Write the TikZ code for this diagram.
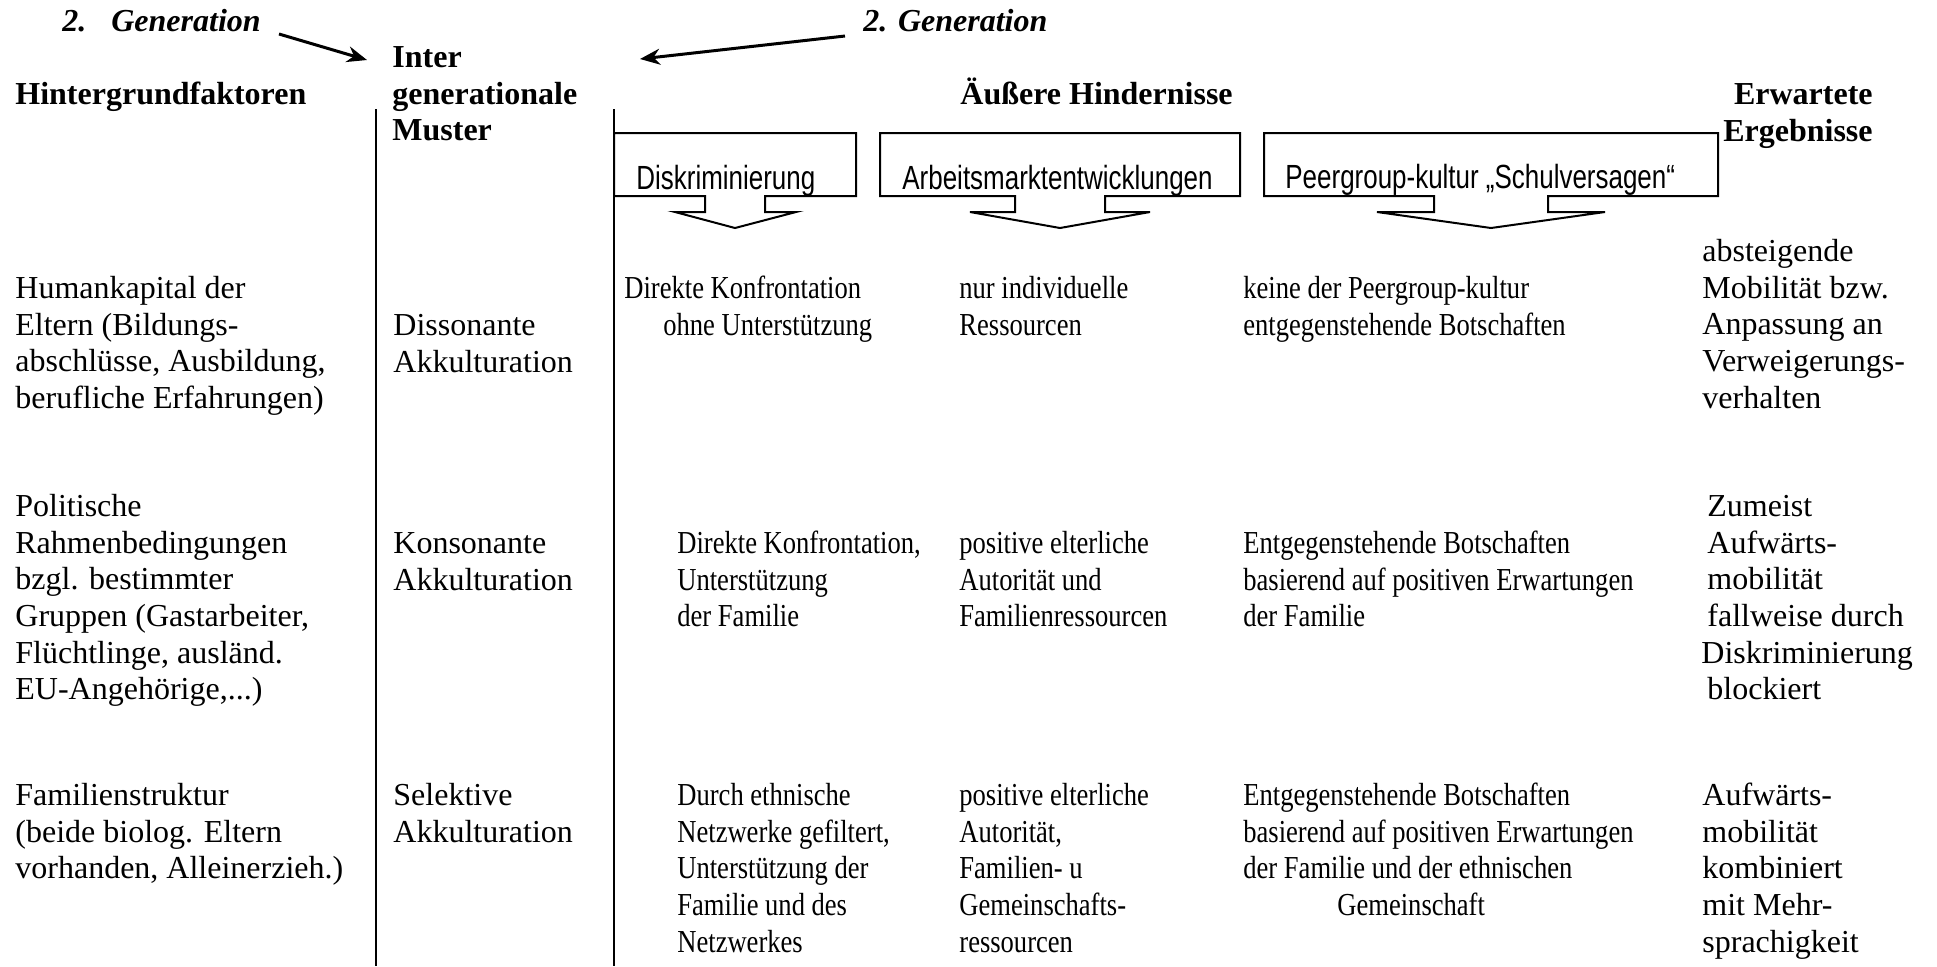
\documentclass[tikz,border=0pt]{standalone}
\usepackage{fontspec}
\setmainfont{Liberation Serif}
\newfontfamily\condserif[FakeStretch=0.83]{Liberation Serif}
\newfontfamily\boxsans[FakeStretch=0.775]{Liberation Sans}
\usetikzlibrary{arrows.meta}
\begin{document}
\begin{tikzpicture}[x=0.5pt,y=-0.5pt,
  txt/.style={anchor=north west, inner sep=0pt, align=left, font=\fontsize{16}{18.35}\selectfont},
  txtr/.style={anchor=north east, inner sep=0pt, align=right, font=\fontsize{16}{18.35}\selectfont\bfseries},
  one/.style={anchor=base west, inner sep=0pt, font=\fontsize{16}{18.35}\selectfont},
  head/.style={one, font=\fontsize{16}{18.35}\selectfont\bfseries},
  headblk/.style={txt, font=\fontsize{16}{18.35}\selectfont\bfseries},
  gen/.style={one, font=\fontsize{16}{18.35}\selectfont\bfseries\itshape},
  mid/.style={txt, font=\fontsize{16}{18.35}\selectfont\condserif},
  boxtxt/.style={anchor=base west, inner sep=0pt, font=\fontsize{16.75}{20}\selectfont\boxsans},
  rule/.style={line width=1pt},
  callout/.style={line width=1pt, fill=white},
  genarrow/.style={line width=1.5pt, -{Stealth[length=10pt,width=8pt]}}
]
\useasboundingbox (0,0) rectangle (1937,966);

% vertical separators
\coordinate (v1t) at (375.5,109); \coordinate (v1b) at (375.5,966);
\coordinate (v2t) at (614,109);   \coordinate (v2b) at (614,966);
\draw[rule] (v1t) -- (v1b);
\draw[rule] (v2t) -- (v2b);

% generation labels and arrows
\node[gen] (gen1) at (62,31) {2.\hspace{12.5pt}Generation};
\node[gen] (gen2) at (863,31) {2. Generation};
\coordinate (a1s) at (279,34); \coordinate (a1e) at (367,60);
\coordinate (a2s) at (845,36); \coordinate (a2e) at (640,59);
\draw[genarrow] (a1s) -- (a1e);
\draw[genarrow] (a2s) -- (a2e);

% headings
\node[head] (hint) at (15,104) {Hintergrundfaktoren};
\node[headblk] (inter) at (392,41.3) {\strut Inter\\generationale\\Muster};
\node[head] (aeuss) at (960,104) {Äußere Hindernisse};
\node[txtr] (erw) at (1873,78.3) {\strut Erwartete\\Ergebnisse};

% callout boxes
\draw[callout] (614,196) -- (614,133) -- (856,133) -- (856,196) -- (765,196) -- (765,212) -- (796,212) -- (735,228) -- (675,212) -- (705,212) -- (705,196) -- cycle;
\draw[callout] (880,196) -- (880,133) -- (1240,133) -- (1240,196) -- (1105,196) -- (1105,212) -- (1150,212) -- (1060,228) -- (970,212) -- (1015,212) -- (1015,196) -- cycle;
\draw[callout] (1264,196) -- (1264,133) -- (1718,133) -- (1718,196) -- (1548,196) -- (1548,212) -- (1605,212) -- (1491,228) -- (1377,212) -- (1434,212) -- (1434,196) -- cycle;
\node[boxtxt] (t1) at (636,189) {Diskriminierung};
\node[boxtxt] (t2) at (902,189) {Arbeitsmarktentwicklungen};
\node[boxtxt] (t3) at (1285,188) {Peergroup-kultur „Schulversagen“};

% background factors
\node[txt] (bf1) at (15,272.3) {\strut Humankapital der\\Eltern (Bildungs-\\abschlüsse, Ausbildung,\\berufliche Erfahrungen)};
\node[txt] (bf2) at (15,490.3) {\strut Politische\\Rahmenbedingungen\\bzgl. bestimmter\\Gruppen (Gastarbeiter,\\Flüchtlinge, ausländ.\\EU-Angehörige,...)};
\node[txt] (bf3) at (15,779.3) {\strut Familienstruktur\\(beide biolog. Eltern\\vorhanden, Alleinerzieh.)};

% patterns
\node[txt] (m1) at (393,309.3) {\strut Dissonante\\Akkulturation};
\node[txt] (m2) at (393,527.3) {\strut Konsonante\\Akkulturation};
\node[txt] (m3) at (393,779.3) {\strut Selektive\\Akkulturation};

% obstacles row A
\node[mid] (a1) at (624,272.3) {\strut Direkte Konfrontation\\\hspace*{19.5pt}ohne Unterstützung};
\node[mid] (a2) at (959,272.3) {\strut nur individuelle\\Ressourcen};
\node[mid] (a3) at (1243,272.3) {\strut keine der Peergroup-kultur\\entgegenstehende Botschaften};
% row B
\node[mid] (b1) at (677,527.3) {\strut Direkte Konfrontation,\\Unterstützung\\der Familie};
\node[mid] (b2) at (959,527.3) {\strut positive elterliche\\Autorität und\\Familienressourcen};
\node[mid] (b3) at (1243,527.3) {\strut Entgegenstehende Botschaften\\basierend auf positiven Erwartungen\\der Familie};
% row C
\node[mid] (c1) at (677,779.3) {\strut Durch ethnische\\Netzwerke gefiltert,\\Unterstützung der\\Familie und des\\Netzwerkes};
\node[mid] (c2) at (959,779.3) {\strut positive elterliche\\Autorität,\\Familien- u\\Gemeinschafts-\\ressourcen};
\node[mid] (c3) at (1243,779.3) {\strut Entgegenstehende Botschaften\\basierend auf positiven Erwartungen\\der Familie und der ethnischen\\\hspace*{47pt}Gemeinschaft};

% expected outcomes
\node[txt] (r1) at (1702,235.3) {\strut absteigende\\Mobilität bzw.\\Anpassung an\\Verweigerungs-\\verhalten};
\node[txt] (r2) at (1707,490.3) {\strut Zumeist\\Aufwärts-\\mobilität\\fallweise durch\\\hspace*{-3pt}Diskriminierung\\blockiert};
\node[txt] (r3) at (1702,779.3) {\strut Aufwärts-\\mobilität\\kombiniert\\mit Mehr-\\sprachigkeit};
\end{tikzpicture}
\end{document}
